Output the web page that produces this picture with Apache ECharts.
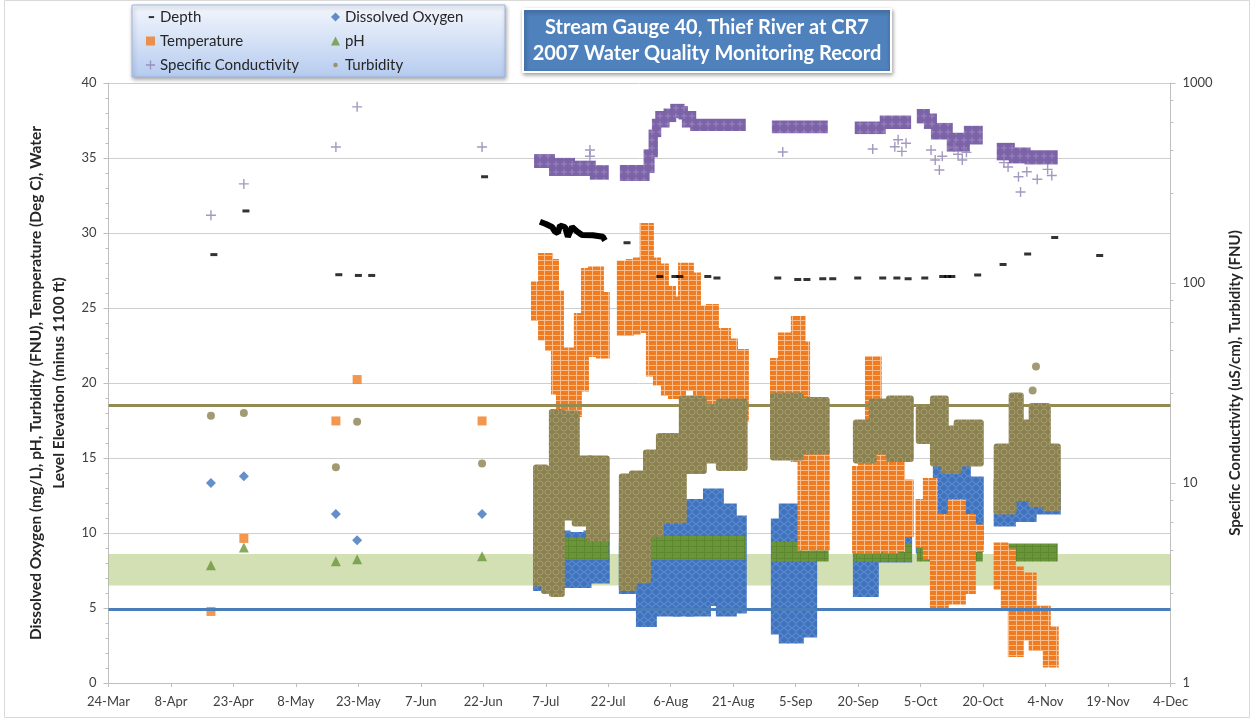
<!DOCTYPE html>
<html>
<head>
<meta charset="UTF-8">
<title>Stream Gauge 40, Thief River at CR7</title>
<script src="https://cdn.jsdelivr.net/npm/echarts@6/dist/echarts.min.js"></script>
<style>
  html, body { margin: 0; padding: 0; background: #fff; }
  #chart { width: 1253px; height: 723px; }
</style>
</head>
<body>
<div id="chart"></div>
<script>
// x values are days counted from 24-Mar-2007 (first tick of the axis)
var tickLabels = ['24-Mar','8-Apr','23-Apr','8-May','23-May','7-Jun','22-Jun','7-Jul','22-Jul',
                  '6-Aug','21-Aug','5-Sep','20-Sep','5-Oct','20-Oct','4-Nov','19-Nov','4-Dec'];

// spot readings [day, value]
var depthSpot = [[25.3,28.56],[33.0,31.47],[55.3,27.22],[60.0,27.17],[63.2,27.17],[90.3,33.75],
  [124.5,29.35],[132.4,27.1],[136.0,27.1],[137.2,27.1],[143.9,27.1],[146.1,27.0],[160.7,27.0],
  [165.5,26.9],[167.7,26.9],[171.5,26.95],[173.9,26.95],[179.9,27.0],[185.9,27.0],[189.3,27.0],
  [192.0,26.95],[196.0,27.0],[200.3,27.1],[201.5,27.1],[202.5,27.1],[208.7,27.2],[214.8,27.9],
  [220.7,28.6],[227.2,29.7],[238.0,28.5]];
var depthJuly = [[103.6,30.75],[105.0,30.6],[106.5,30.4],[107.2,30.1],[107.9,30.0],[108.4,30.5],
  [109.6,30.4],[110.3,29.75],[111.3,30.4],[112.5,30.1],[113.7,29.87],[116.3,29.85],[118.7,29.75],[119.2,29.5]];
var tempSpot = [[24.6,4.77],[32.5,9.64],[54.6,17.47],[59.7,20.23],[89.7,17.47]];
var condSpot = [[24.6,218],[32.5,313],[54.6,479],[59.7,760],[89.7,479],
  [115.6,462],[115.6,430],[161.9,452],[183.5,468],[188.8,480],[189.6,520],[190.5,455],[191.5,500],
  [197.5,462],[198.5,412],[199.5,367],[200.2,430],[203,477],[204,440],[205,412],[206,450],
  [215,400],[216,380],[218.5,340],[219,285],[220.5,360],[223,330],[225.5,370],[226.5,345]];
var doSpot = [[24.6,13.33],[32.5,13.78],[54.6,11.27],[59.7,9.51],[89.7,11.27]];
var phSpot = [[24.6,7.85],[32.5,9.03],[54.6,8.11],[59.7,8.25],[89.7,8.45]];
var turbSpot = [[24.6,17.81],[32.5,18.0],[54.6,14.39],[59.7,17.41],[89.7,14.64],[222.7,21.1],[221.9,19.5]];

// continuous logger record, read as [first day, last day, low, high]
var tempLogger = [
  [102.4,104.1,24.4,26.5],[104.1,105.8,23.1,28.4],[105.8,107.2,22.4,28.0],[107.2,108.4,19.5,25.9],
  [108.4,110.1,18.0,21.0],[110.1,112.7,18.0,22.1],[112.7,114.4,19.7,24.4],[114.4,116.1,22.0,27.4],
  [116.1,118.0,22.9,27.5],[118.0,119.4,21.9,25.8],
  [123.0,125.2,23.4,27.9],[125.2,126.9,23.5,28.0],[126.9,128.5,23.6,28.1],[128.5,130.0,23.9,30.4],
  [130.0,131.7,20.7,28.1],[131.7,133.6,20.1,27.7],[133.6,135.3,19.4,26.2],[135.3,137.7,19.2,25.5],
  [137.7,139.6,21.1,27.75],[139.6,141.3,19.75,27.1],[141.3,143.0,18.4,24.9],[143.0,144.4,18.0,22.9],
  [144.4,145.6,18.0,25.0],[145.6,146.8,18.0,22.7],[146.8,148.5,18.0,23.4],[148.5,150.2,18.0,22.7],
  [150.2,152.8,17.7,22.0],
  [159.8,161.7,18.9,21.4],[161.7,163.6,18.9,23.1],[163.6,164.8,18.9,20.4],[164.8,166.4,15.0,24.2],
  [166.4,167.5,9.1,22.5],[167.5,172.2,9.1,15.5],
  [179.5,180.9,8.9,14.2],[180.9,182.6,8.9,15.5],[182.6,184.7,8.9,21.5],[184.7,186.9,9.0,17.5],
  [186.9,188.8,8.9,15.1],[188.8,190.3,9.0,18.1],[190.3,192.4,10.0,13.3],
  [194.8,196.5,9.3,12.0],[196.5,198.2,8.5,13.4],[198.2,200.8,5.2,11.0],[200.8,202.5,6.0,9.5],
  [202.5,204.9,5.5,12.0],[204.9,207.3,6.2,11.0],[207.3,209.2,9.0,10.3],
  [213.5,215.2,6.5,9.1],[215.2,216.9,5.1,8.7],[216.9,218.8,2.0,7.5],[218.8,221.9,3.1,7.1],
  [221.9,225.3,2.4,4.9],[225.3,227.2,1.3,3.5]];
var condLogger = [
  [102.9,106.5,389,426],[106.5,111.3,355,408],[111.3,116.3,355,395],[116.3,119.4,340,375],
  [123.5,129.2,335,376],[129.2,130.4,367,450],[130.4,131.2,440,565],[131.2,132.0,555,640],
  [132.0,134.0,620,700],[134.0,135.6,660,720],[135.6,137.6,690,760],[137.6,138.4,680,740],
  [138.4,140.4,620,700],[140.4,152.3,595,640],
  [160.0,172.0,580,628],
  [179.9,185.9,575,620],[185.9,192.0,610,665],
  [194.8,196.5,650,716],[196.5,198.2,610,680],[198.2,202.0,540,610],[202.0,206.1,470,545],
  [206.1,209.2,510,590],
  [214.0,216.9,425,485],[216.9,220.7,410,460],[220.7,227.2,405,445]];
var doLogger = [
  [102.9,104.8,6.4,9.3],[104.8,110.0,6.8,9.9],[110.0,115.0,6.6,9.8],[115.0,119.4,6.9,9.9],
  [123.5,127.6,6.2,9.1],[127.6,130.7,4.0,10.2],[130.7,136.5,4.7,10.6],[136.5,139.6,4.7,12.0],
  [139.6,143.7,4.7,12.0],[143.7,146.8,5.4,12.7],[146.8,149.9,4.7,11.7],[149.9,152.3,4.9,10.9],
  [160.0,161.9,3.5,10.7],[161.9,166.0,2.9,11.7],[166.0,169.2,3.3,10.0],
  [179.7,184.0,6.0,11.7],[184.0,192.0,8.3,9.7],
  [194.8,198.9,8.9,12.0],[198.9,206.1,11.1,14.7],[206.1,209.2,9.5,13.5],
  [213.5,216.9,10.7,13.3],[216.9,221.9,11.0,13.7],[221.9,227.7,11.5,13.3]];
var phLogger = [
  [102.9,119.4,8.4,9.5],[123.5,152.3,8.4,9.6],[160.0,172.2,8.3,9.2],
  [179.7,192.2,8.3,9.1],[194.8,209.2,8.3,9.3],[213.5,227.2,8.3,9.1]];
var turbLogger = [
  [102.9,104.8,6.7,14.3],[104.8,106.7,6.2,13.5],[106.7,108.6,6.0,18.0],[108.6,112.2,11.1,17.9],
  [112.2,115.6,10.7,14.9],[115.6,119.4,9.7,14.9],
  [123.5,125.9,6.4,13.7],[125.9,129.3,6.9,13.9],[129.3,132.4,10.0,15.3],[132.4,137.9,10.9,16.4],
  [137.9,142.7,14.2,18.9],[142.7,146.8,14.9,18.2],[146.8,152.5,14.4,18.7],
  [159.8,166.0,15.1,19.1],[166.0,172.2,15.5,18.8],
  [179.7,183.5,14.9,17.3],[183.5,187.6,15.5,18.7],[187.6,192.4,15.0,18.9],
  [194.8,198.2,16.2,18.2],[198.2,200.8,14.7,18.9],[200.8,203.9,14.2,16.9],[203.9,209.2,14.7,17.3],
  [213.5,217.1,11.5,15.7],[217.1,218.8,12.4,19.1],[218.8,221.9,12.4,17.3],[221.9,225.3,12.0,18.4],
  [225.3,227.7,11.7,15.7]];

// standards drawn across the plot
var phBand = [6.5, 8.6];
var doStandard = 4.93;
var turbStandard = 18.55;

var plusIcon = 'path://M4.3,0H5.7V4.3H10V5.7H5.7V10H4.3V5.7H0V4.3H4.3Z';
var dashIcon = 'path://M0,0M10,10M3,4H9V6.2H3Z';
var dotIcon = 'path://M0,0M10,10M5,2.5A2.5,2.5,0,1,1,4.99,2.5Z';

var C = { depth:'#000000', temp:'#f07c22', cond:'#7c62a6', condLight:'#8d80b2',
          dox:'#3f73be', ph:'#6b9638', turb:'#8b8150' };

// small tiles so the logger bands look like stacked markers
function tile(w, h, base, edge, kind) {
  var c = document.createElement('canvas');
  c.width = w; c.height = h;
  var g = c.getContext('2d');
  g.fillStyle = base; g.fillRect(0, 0, w, h);
  g.strokeStyle = edge; g.lineWidth = 1;
  g.beginPath();
  if (kind === 'square') { g.moveTo(0, 0.5); g.lineTo(w, 0.5); g.moveTo(0.5, 0); g.lineTo(0.5, h); }
  if (kind === 'circle') { g.arc(w / 2, h / 2, w / 2 - 1, 0, Math.PI * 2); }
  if (kind === 'diamond') { g.moveTo(w / 2, 0.5); g.lineTo(w - 0.5, h / 2); g.lineTo(w / 2, h - 0.5); g.lineTo(0.5, h / 2); g.closePath(); }
  if (kind === 'plus') { g.moveTo(w / 2, 1); g.lineTo(w / 2, h - 1); g.moveTo(1, h / 2); g.lineTo(w - 1, h / 2); }
  g.stroke();
  return { image: c, repeat: 'repeat' };
}

function spot(name, data, symbol, size, color, yIndex, z) {
  return { name: name, type: 'scatter', data: data, symbol: symbol, symbolSize: size,
           yAxisIndex: yIndex, z: z, silent: true, itemStyle: { color: color } };
}

function logger(name, data, color, fill, yIndex, z, pad, r) {
  return {
    name: name, type: 'custom', data: data, yAxisIndex: yIndex, z: z, silent: true,
    encode: { x: [0, 1], y: [2, 3] },
    itemStyle: { color: color },
    renderItem: function (params, api) {
      var a = api.coord([api.value(0), api.value(3)]);
      var b = api.coord([api.value(1), api.value(2)]);
      var cs = params.coordSys;
      var shape = echarts.graphic.clipRectByRect(
        { x: a[0] - pad, y: a[1] - pad, width: b[0] - a[0] + 2 * pad, height: b[1] - a[1] + 2 * pad },
        { x: cs.x, y: cs.y, width: cs.width, height: cs.height });
      if (!shape) return;
      shape.r = r || 0;
      return { type: 'rect', shape: shape, style: { fill: fill } };
    }
  };
}

var chart = echarts.init(document.getElementById('chart'));

var legendText = { fontSize: 15, color: '#262626', lineHeight: 16 };

var option = {
  animation: false,
  textStyle: { fontFamily: 'Lato, "Open Sans", sans-serif' },
  grid: { left: 108.5, right: 82.5, top: 83, bottom: 40 },
  legend: [
    { orient: 'vertical', left: 146, top: 9, padding: 0, itemWidth: 9, itemHeight: 9, itemGap: 8,
      selectedMode: false, textStyle: legendText,
      data: [
        { name: 'Depth', icon: dashIcon, itemStyle: { color: C.depth } },
        { name: 'Temperature', icon: 'rect', itemStyle: { color: C.temp } },
        { name: 'Specific Conductivity', icon: plusIcon, itemStyle: { color: C.condLight } }
      ] },
    { orient: 'vertical', left: 331, top: 9, padding: 0, itemWidth: 9, itemHeight: 9, itemGap: 8,
      selectedMode: false, textStyle: legendText,
      data: [
        { name: 'Dissolved Oxygen', icon: 'diamond', itemStyle: { color: C.dox } },
        { name: 'pH', icon: 'triangle', itemStyle: { color: C.ph } },
        { name: 'Turbidity', icon: dotIcon, itemStyle: { color: C.turb } }
      ] }
  ],
  xAxis: {
    type: 'value', min: 0, max: 255, interval: 15,
    axisLine: { lineStyle: { color: '#bfbfbf' } },
    axisTick: { length: 4, lineStyle: { color: '#bfbfbf' } },
    splitLine: { show: false },
    axisLabel: { color: '#404040', fontSize: 13, margin: 12,
      formatter: function (v) { return tickLabels[Math.round(v / 15)]; } }
  },
  yAxis: [
    {
      type: 'value', min: 0, max: 40, interval: 5,
      name: 'Dissolved Oxygen (mg/L), pH, Turbidity (FNU), Temperature (Deg C), Water\nLevel Elevation (minus 1100 ft)',
      nameLocation: 'middle', nameRotate: 90, nameGap: 36,
      nameTextStyle: { fontSize: 15.5, fontWeight: 'bold', color: '#262626', lineHeight: 23 },
      axisLine: { show: true, lineStyle: { color: '#bfbfbf' } },
      axisTick: { show: true, length: 5, lineStyle: { color: '#bfbfbf' } },
      minorTick: { show: true, splitNumber: 5, length: 3, lineStyle: { color: '#bfbfbf' } },
      splitLine: { lineStyle: { color: '#cfcfcf' } },
      axisLabel: { color: '#404040', fontSize: 13, margin: 12 }
    },
    {
      type: 'log', logBase: 10, min: 1, max: 1000, position: 'right',
      name: 'Specific Conductivity (uS/cm), Turbidity (FNU)',
      nameLocation: 'middle', nameRotate: 90, nameGap: 57,
      nameTextStyle: { fontSize: 15, fontWeight: 'bold', color: '#262626' },
      axisLine: { show: true, lineStyle: { color: '#bfbfbf' } },
      axisTick: { show: true, length: 5, lineStyle: { color: '#bfbfbf' } },
      minorTick: { show: true, length: 3, lineStyle: { color: '#bfbfbf' } },
      splitLine: { show: false },
      axisLabel: { color: '#404040', fontSize: 13, margin: 12,
        formatter: function (v) { return String(Math.round(v)); } }
    }
  ],
  graphic: [
    { type: 'rect', x: 4.5, y: 0.5, z: 0, silent: true,
      shape: { width: 1245, height: 717 },
      style: { fill: 'none', stroke: '#d9d9d9', lineWidth: 1 } },
    { type: 'rect', x: 132, y: 5, z: 1, silent: true,
      shape: { width: 373, height: 72 },
      style: {
        fill: new echarts.graphic.LinearGradient(0, 0, 0, 1, [
          { offset: 0, color: '#f4f7fd' }, { offset: 1, color: '#b5cbef' }]),
        stroke: '#9fb6de', lineWidth: 1,
        shadowBlur: 4, shadowOffsetX: 1, shadowOffsetY: 2, shadowColor: 'rgba(0,0,0,0.35)' } },
    { type: 'group', x: 523, y: 9, z: 5, silent: true, children: [
      { type: 'rect', shape: { width: 368, height: 63 },
        style: { fill: '#4f81bd', stroke: '#ffffff', lineWidth: 2,
          shadowBlur: 4, shadowOffsetX: 1, shadowOffsetY: 2, shadowColor: 'rgba(0,0,0,0.35)' } },
      { type: 'text', x: 184, y: 32,
        style: { text: 'Stream Gauge 40, Thief River at CR7\n2007 Water Quality Monitoring Record',
          fill: '#ffffff', font: 'bold 20px Lato, "Open Sans", sans-serif', lineHeight: 26,
          align: 'center', verticalAlign: 'middle' } }
    ] }
  ],
  series: [
    spot('Depth', depthSpot, 'rect', [7, 3], C.depth, 0, 7),
    spot('Temperature', tempSpot, 'rect', 9, C.temp, 0, 4),
    spot('Specific Conductivity', condSpot, plusIcon, 10, C.condLight, 1, 6),
    spot('Dissolved Oxygen', doSpot, 'diamond', 10, C.dox, 0, 2),
    spot('pH', phSpot, 'triangle', 10, C.ph, 0, 3),
    spot('Turbidity', turbSpot, 'circle', 8, C.turb, 0, 5),
    { name: 'Depth', type: 'line', data: depthJuly, showSymbol: false, silent: true, z: 7,
      lineStyle: { color: C.depth, width: 6 } },
    logger('Dissolved Oxygen', doLogger, C.dox, tile(8, 8, C.dox, '#6c97d6', 'diamond'), 0, 2, 4, 0),
    logger('pH', phLogger, C.ph, tile(8, 6, C.ph, '#5d8730', 'square'), 0, 3, 3, 0),
    logger('Temperature', tempLogger, C.temp, tile(8, 5, C.temp, '#f9bb8a', 'square'), 0, 4, 4, 0),
    logger('Turbidity', turbLogger, C.turb, tile(8, 8, C.turb, '#a59c6e', 'circle'), 0, 5, 4, 3),
    logger('Specific Conductivity', condLogger, C.cond, tile(8, 8, C.cond, '#9a86c0', 'plus'), 1, 6, 3, 0),
    { name: 'standards', type: 'line', data: [], z: 8, silent: true,
      markArea: { silent: true, itemStyle: { color: 'rgba(155,187,89,0.45)' },
        data: [[{ yAxis: phBand[0] }, { yAxis: phBand[1] }]] },
      markLine: { silent: true, symbol: 'none', label: { show: false },
        data: [
          { yAxis: doStandard, lineStyle: { color: '#4a7ebb', width: 3, type: 'solid' } },
          { yAxis: turbStandard, lineStyle: { color: '#948a54', width: 3, type: 'solid' } }
        ] } }
  ]
};

chart.setOption(option);
</script>
</body>
</html>
